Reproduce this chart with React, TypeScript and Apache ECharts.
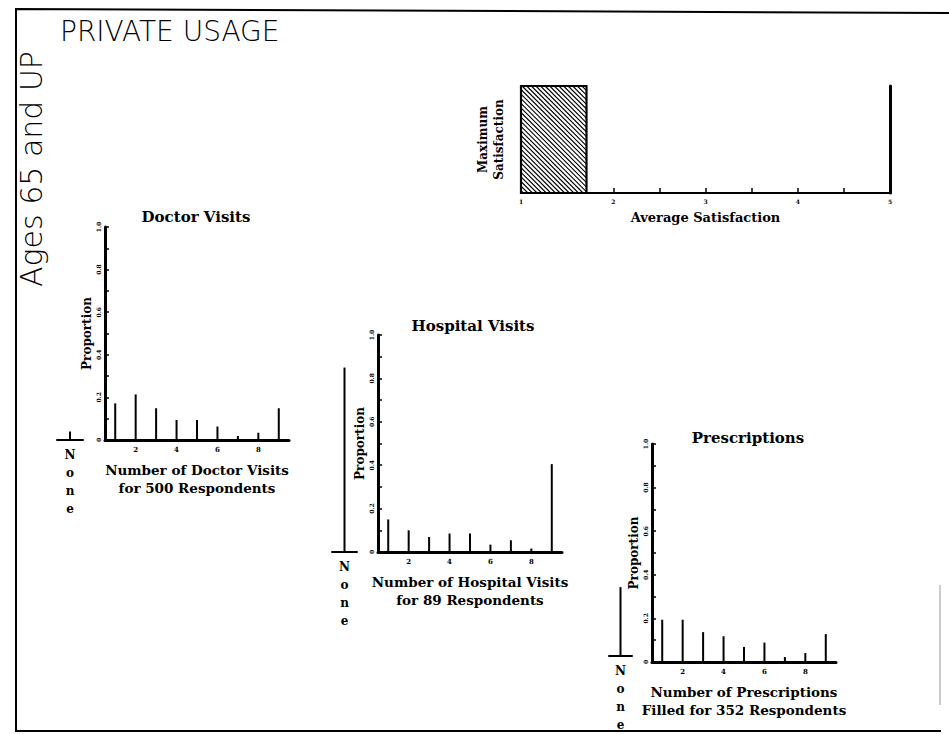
import React, { useEffect, useRef } from "react";
import * as echarts from "echarts";

// ---------- data ----------
const spikeCategories = ["1", "2", "3", "4", "5", "6", "7", "8", "9"];
const doctorValues = [0.172, 0.214, 0.149, 0.094, 0.094, 0.063, 0.019, 0.034, 0.149];
const doctorNone = [0.04];
const hospitalValues = [0.15, 0.1, 0.069, 0.085, 0.085, 0.034, 0.054, 0.016, 0.405];
const hospitalNone = [0.85];
const prescriptionValues = [0.194, 0.194, 0.137, 0.118, 0.069, 0.089, 0.023, 0.041, 0.128];
const prescriptionNone = [0.325];
const noneCategory = ["None"];
const satisfactionAverage = [[1, 1.71]];
const satisfactionMin = 1;
const satisfactionMax = 5;

const SERIF = '"DejaVu Serif", "Liberation Serif", serif';
const SANS = '"DejaVu Sans", "Liberation Sans", sans-serif';

const panels = [
  {
    title: "Doctor Visits",
    titleX: 196,
    titleY: 217,
    values: doctorValues,
    none: doctorNone,
    xName: "Number of Doctor Visits\nfor 500 Respondents",
    grid: { left: 105, top: 227, width: 184, height: 213 },
    noneGrid: { left: 57, top: 227, width: 26, height: 213 },
  },
  {
    title: "Hospital Visits",
    titleX: 473,
    titleY: 326,
    values: hospitalValues,
    none: hospitalNone,
    xName: "Number of Hospital Visits\nfor 89 Respondents",
    grid: { left: 378, top: 335, width: 184, height: 217 },
    noneGrid: { left: 332, top: 335, width: 25, height: 217 },
  },
  {
    title: "Prescriptions",
    titleX: 748,
    titleY: 438,
    values: prescriptionValues,
    none: prescriptionNone,
    xName: "Number of Prescriptions\nFilled for 352 Respondents",
    grid: { left: 652, top: 444, width: 184, height: 218 },
    noneGrid: { left: 609, top: 444, width: 23, height: 218 },
  },
];

function buildOption() {
  const grid: any[] = [{ left: 521, top: 86, width: 369, height: 107 }];
  const xAxis: any[] = [
    {
      type: "value",
      gridIndex: 0,
      min: satisfactionMin,
      max: satisfactionMax,
      interval: 0.5,
      axisLine: { show: true, lineStyle: { color: "#000", width: 2 } },
      axisTick: { show: true, inside: true, length: 5, lineStyle: { color: "#000", width: 1.5 } },
      splitLine: { show: false },
      axisLabel: {
        formatter: (v: number) => (Number.isInteger(v) ? String(v) : ""),
        fontSize: 6,
        fontWeight: "bold",
        color: "#000",
        fontFamily: SERIF,
        margin: 5,
      },
      name: "Average Satisfaction",
      nameLocation: "middle",
      nameGap: 18,
      nameTextStyle: { fontFamily: SERIF, fontWeight: "bold", fontSize: 13, color: "#000" },
    },
  ];
  const yAxis: any[] = [
    {
      type: "value",
      gridIndex: 0,
      min: 0,
      max: 1,
      axisLine: { show: false },
      axisTick: { show: false },
      axisLabel: { show: false },
      splitLine: { show: false },
      name: "Maximum\nSatisfaction",
      nameLocation: "middle",
      nameRotate: 90,
      nameGap: 14,
      nameTextStyle: { fontFamily: SERIF, fontWeight: "bold", fontSize: 12, color: "#000", lineHeight: 16 },
    },
    {
      type: "value",
      gridIndex: 0,
      position: "right",
      min: 0,
      max: 1,
      axisLine: { show: true, lineStyle: { color: "#000", width: 3 } },
      axisTick: { show: false },
      axisLabel: { show: false },
      splitLine: { show: false },
    },
  ];
  const series: any[] = [
    {
      type: "custom",
      xAxisIndex: 0,
      yAxisIndex: 0,
      data: satisfactionAverage,
      renderItem: (params: any, api: any) => {
        const p0 = api.coord([api.value(0), 1]);
        const p1 = api.coord([api.value(1), 0]);
        const x0 = p0[0];
        const x1 = p1[0];
        const y0 = p0[1];
        const y1 = p1[1];
        const children: any[] = [
          {
            type: "rect",
            shape: { x: x0, y: y0, width: x1 - x0, height: y1 - y0 },
            style: { fill: "#fff", stroke: "none" },
          },
        ];
        const step = 4.6;
        for (let c = y0 - x1; c <= y1 - x0; c += step) {
          const xa = Math.max(x0, y0 - c);
          const xb = Math.min(x1, y1 - c);
          if (xb > xa) {
            children.push({
              type: "line",
              shape: { x1: xa, y1: xa + c, x2: xb, y2: xb + c },
              style: { stroke: "#000", lineWidth: 1.1 },
            });
          }
        }
        children.push({
          type: "rect",
          shape: { x: x0, y: y0, width: x1 - x0, height: y1 - y0 },
          style: { fill: "none", stroke: "#000", lineWidth: 2.2 },
        });
        return { type: "group", children };
      },
    },
  ];

  const graphic: any[] = [
    {
      type: "polyline",
      shape: { points: [[949, 13], [16, 9], [16, 731], [941, 731]] },
      style: { stroke: "#000", lineWidth: 2, fill: "none" },
    },
    {
      type: "line",
      shape: { x1: 940, y1: 585, x2: 940, y2: 705 },
      style: { stroke: "#999", lineWidth: 1 },
    },
    {
      type: "text",
      x: 60,
      y: 31,
      style: {
        text: "PRIVATE USAGE",
        font: `200 28px ${SANS}`,
        fill: "#000",
        textAlign: "left",
        textVerticalAlign: "middle",
      },
    },
    {
      type: "text",
      x: 31,
      y: 169,
      rotation: Math.PI / 2,
      style: {
        text: "Ages 65 and UP",
        font: `200 30px ${SANS}`,
        fill: "#000",
        textAlign: "center",
        textVerticalAlign: "middle",
      },
    },
  ];

  panels.forEach((p) => {
    const gMain = grid.length;
    grid.push(p.grid);
    const gNone = grid.length;
    grid.push(p.noneGrid);

    const xMain = xAxis.length;
    xAxis.push({
      type: "category",
      gridIndex: gMain,
      data: spikeCategories,
      boundaryGap: true,
      axisLine: { show: true, lineStyle: { color: "#000", width: 3 } },
      axisTick: { show: false },
      splitLine: { show: false },
      axisLabel: {
        interval: 0,
        formatter: (v: string, i: number) => (i % 2 === 1 ? v : ""),
        fontSize: 7,
        fontWeight: "bold",
        color: "#000",
        fontFamily: SERIF,
        margin: 6,
      },
      name: p.xName,
      nameLocation: "middle",
      nameGap: 21,
      nameTextStyle: { fontFamily: SERIF, fontWeight: "bold", fontSize: 13.5, color: "#000", lineHeight: 18 },
    });
    const xNone = xAxis.length;
    xAxis.push({
      type: "category",
      gridIndex: gNone,
      data: noneCategory,
      axisLine: { show: true, lineStyle: { color: "#000", width: 2 } },
      axisTick: { show: false },
      axisLabel: {
        formatter: (v: string) => v.split("").join("\n"),
        fontSize: 12,
        fontWeight: "bold",
        color: "#000",
        fontFamily: SERIF,
        lineHeight: 18,
        margin: 6,
      },
    });
    const yMain = yAxis.length;
    yAxis.push({
      type: "value",
      gridIndex: gMain,
      min: 0,
      max: 1,
      interval: 0.1,
      axisLine: { show: true, lineStyle: { color: "#000", width: 3 } },
      axisTick: { show: true, inside: true, length: 4, lineStyle: { color: "#000", width: 1.5 } },
      splitLine: { show: false },
      axisLabel: {
        formatter: (v: number) => {
          const k = Math.round(v * 10);
          if (k % 2 !== 0) return "";
          return k === 0 ? "0" : (k / 10).toFixed(1);
        },
        rotate: 90,
        fontSize: 6,
        fontWeight: "bold",
        color: "#000",
        fontFamily: SERIF,
        margin: 4,
      },
      name: "Proportion",
      nameLocation: "middle",
      nameRotate: 90,
      nameGap: 12,
      nameTextStyle: { fontFamily: SERIF, fontWeight: "bold", fontSize: 12, color: "#000" },
    });
    const yNone = yAxis.length;
    yAxis.push({
      type: "value",
      gridIndex: gNone,
      min: 0,
      max: 1,
      show: false,
    });

    series.push({
      type: "bar",
      xAxisIndex: xMain,
      yAxisIndex: yMain,
      data: p.values,
      barWidth: 2,
      itemStyle: { color: "#000" },
    });
    series.push({
      type: "bar",
      xAxisIndex: xNone,
      yAxisIndex: yNone,
      data: p.none,
      barWidth: 2,
      itemStyle: { color: "#000" },
    });

    graphic.push({
      type: "text",
      x: p.titleX,
      y: p.titleY,
      style: {
        text: p.title,
        font: `bold 15px ${SERIF}`,
        fill: "#000",
        textAlign: "center",
        textVerticalAlign: "middle",
      },
    });
  });

  return {
    animation: false,
    backgroundColor: "#fff",
    grid,
    xAxis,
    yAxis,
    series,
    graphic,
  };
}

export default function App() {
  const ref = useRef<HTMLDivElement>(null);
  useEffect(() => {
    document.body.style.margin = "0";
    if (!ref.current) return;
    const chart = echarts.init(ref.current, undefined, { renderer: "svg" });
    chart.setOption(buildOption() as any);
    return () => {
      chart.dispose();
    };
  }, []);
  return <div ref={ref} style={{ width: 949, height: 734, background: "#fff" }} />;
}
